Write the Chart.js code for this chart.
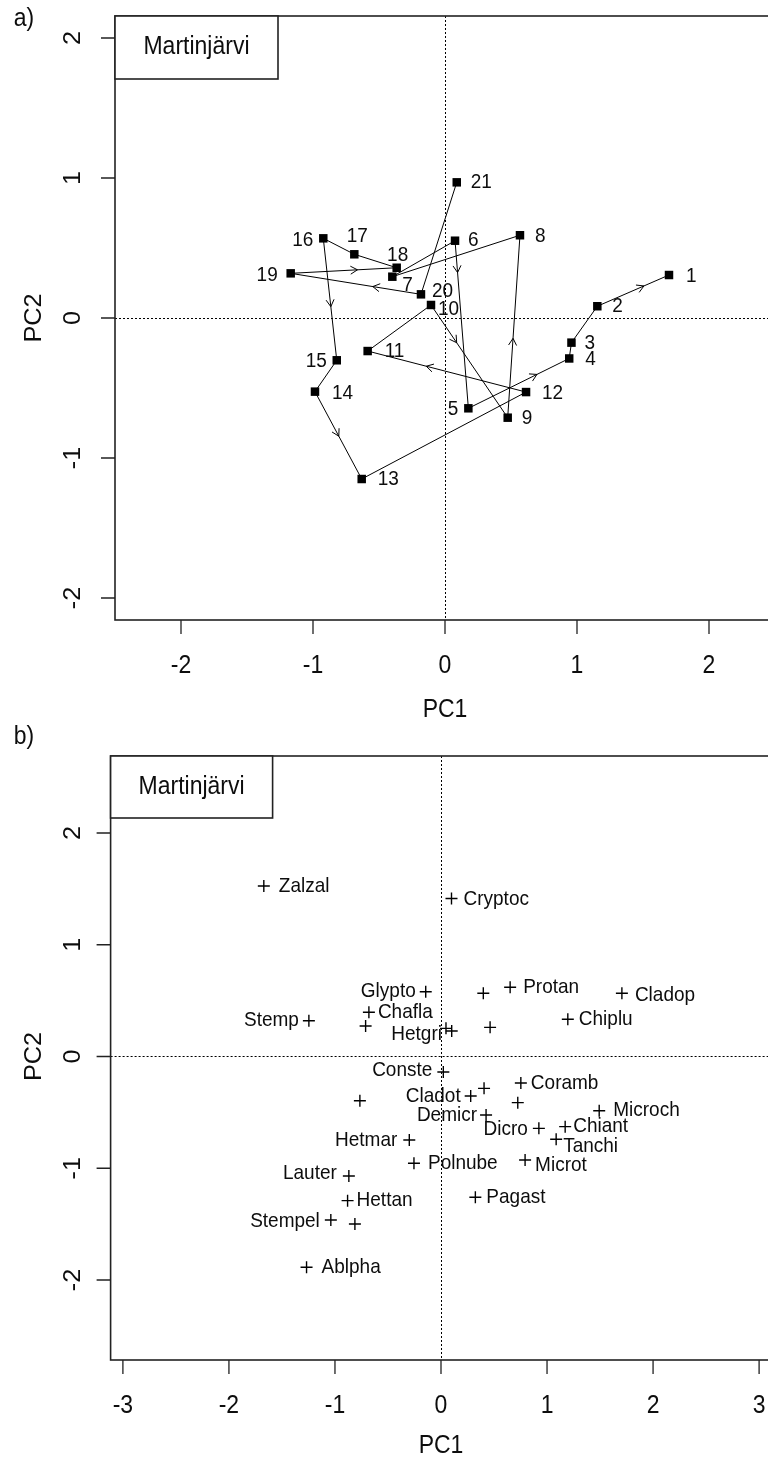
<!DOCTYPE html>
<html>
<head>
<meta charset="utf-8">
<title>Martinjärvi PCA</title>
<script src="https://cdn.jsdelivr.net/npm/chart.js@4.4.1/dist/chart.umd.min.js"></script>
<style>
  html, body { margin: 0; padding: 0; background: #fff; overflow: hidden; }
  #wrap { position: relative; width: 800px; height: 1459px; }
  canvas { position: absolute; left: 0; }
</style>
</head>
<body>
<div id="wrap">
  <canvas id="panelA" width="800" height="728" style="top:0"></canvas>
  <canvas id="panelB" width="800" height="759" style="top:700px"></canvas>
</div>
<script>
// ---- data -------------------------------------------------------------
const siteName = 'Martinjärvi';

// a) sample scores, numbered in stratigraphic order
const sampleIds = ['1','2','3','4','5','6','7','8','9','10','11','12','13','14','15','16','17','18','19','20','21'];
const samplePC1 = [1.697, 1.154, 0.958, 0.941, 0.177, 0.076, -0.399, 0.568, 0.475, -0.106, -0.586,
                   0.614, -0.631, -0.985, -0.820, -0.922, -0.687, -0.366, -1.169, -0.182, 0.089];
const samplePC2 = [0.307, 0.084, -0.176, -0.289, -0.645, 0.552, 0.295, 0.591, -0.712, 0.093, -0.236,
                   -0.529, -1.150, -0.526, -0.302, 0.569, 0.455, 0.359, 0.319, 0.169, 0.969];

// b) taxon scores ('' = unlabelled taxon)
const taxa = ['Zalzal','Cryptoc','Glypto','','Protan','Cladop','Chafla','Stemp','','Hetgri','','',
              'Chiplu','Conste','Coramb','','Cladot','','','Demicr','Microch','Dicro','Chiant','Tanchi',
              'Hetmar','Polnube','Microt','Lauter','Hettan','Pagast','Stempel','','Ablpha'];
const taxaPC1 = [-1.671, 0.099, -0.144, 0.399, 0.652, 1.706, -0.680, -1.246, -0.711, 0.047, 0.101, 0.463,
                 1.196, 0.022, 0.753, 0.406, 0.280, -0.765, 0.724, 0.425, 1.492, 0.923, 1.171, 1.086,
                 -0.299, -0.255, 0.793, -0.869, -0.881, 0.324, -1.039, -0.812, -1.268];
const taxaPC2 = [1.526, 1.414, 0.580, 0.566, 0.619, 0.566, 0.396, 0.320, 0.273, 0.252, 0.228, 0.261,
                 0.333, -0.139, -0.237, -0.285, -0.353, -0.396, -0.413, -0.523, -0.485, -0.643, -0.628, -0.741,
                 -0.747, -0.956, -0.926, -1.069, -1.290, -1.260, -1.463, -1.499, -1.886];

// axis ticks
const ticksAx = [-2, -1, 0, 1, 2];
const ticksAy = [-2, -1, 0, 1, 2];
const ticksBx = [-3, -2, -1, 0, 1, 2, 3];
const ticksBy = [-2, -1, 0, 1, 2];

// ---- styling ----------------------------------------------------------
// label offsets from the point, in pixels: [dx, dy, align]
const sampleLabelOffset = [
  [17, 1, 'left'], [15, 0, 'left'], [13, 1, 'left'], [16, 1, 'left'], [-10, 1, 'right'],
  [13, 0, 'left'], [10, 9, 'left'], [15, 1, 'left'], [14, 1, 'left'], [7, 4, 'left'],
  [17, 0, 'left'], [16, 1, 'left'], [16, 0, 'left'], [17, 2, 'left'], [-10, 1, 'right'],
  [-10, 2, 'right'], [3, -18, 'center'], [1, -12, 'center'], [-13, 2, 'right'], [11, -3, 'left'],
  [14, 0, 'left']
];
// where the direction arrowhead sits on each step (fraction of the way from
// the later sample back to the earlier one); null = no arrowhead drawn
const stepArrowAt = [0.65, null, null, 0.68, 0.19, null, null, 0.435, 0.335, null,
                     0.63, null, 0.51, null, 0.56, null, null, 0.63, 0.37, null];
const taxaLabelOffset = [
  [15, 0, 'left'], [12, 1, 'left'], [-10, 0, 'right'], null, [13, 0, 'left'], [13, 2, 'left'],
  [9, 0, 'left'], [-10, 0, 'right'], null, [-4, 6, 'right'], null, null,
  [11, 0, 'left'], [-11, -2, 'right'], [10, 0, 'left'], null, [-10, 0, 'right'], null, null,
  [-9, 0, 'right'], [14, 0, 'left'], [-11, 1, 'right'], [8, 0, 'left'], [7, 7, 'left'],
  [-12, 0, 'right'], [14, 0, 'left'], [10, 5, 'left'], [-12, -3, 'right'], [9, 0, 'left'],
  [11, 0, 'left'], [-11, 1, 'right'], null, [15, 0, 'left']
];

const STRETCH = 1.1;              // glyphs are drawn slightly tall and narrow
const FONT = '"Liberation Sans", Arial, sans-serif';
const INK = '#0d0d0d';

function txt(ctx, s, x, y, size, align, rot) {
  ctx.save();
  ctx.translate(x, y);
  ctx.scale(1, STRETCH);
  if (rot) ctx.rotate(rot);
  ctx.font = size + 'px ' + FONT;
  ctx.textAlign = align || 'center';
  ctx.textBaseline = 'middle';
  ctx.fillStyle = INK;
  ctx.fillText(s, 0, 0);
  ctx.restore();
}

function zeroLines(chart) {
  const { ctx, chartArea: a, scales: { x, y } } = chart;
  const x0 = Math.round(x.getPixelForValue(0)) + 0.5;
  const y0 = Math.round(y.getPixelForValue(0)) + 0.5;
  ctx.save();
  ctx.strokeStyle = '#000';
  ctx.lineWidth = 1;
  ctx.setLineDash([2, 2]);
  ctx.beginPath();
  ctx.moveTo(x0, a.top); ctx.lineTo(x0, a.bottom);
  ctx.moveTo(a.left, y0); ctx.lineTo(a.right, y0);
  ctx.stroke();
  ctx.restore();
}

function frameAndAxes(chart, opt) {
  const { ctx, chartArea: a, scales: { x, y } } = chart;
  ctx.save();
  ctx.strokeStyle = '#222';
  ctx.lineWidth = 1.6;
  ctx.strokeRect(a.left, a.top, a.right - a.left, a.bottom - a.top);
  ctx.lineWidth = 1.3;
  ctx.beginPath();
  opt.xt.forEach(v => {
    const px = x.getPixelForValue(v);
    ctx.moveTo(px, a.bottom); ctx.lineTo(px, a.bottom + 14);
  });
  opt.yt.forEach(v => {
    const py = y.getPixelForValue(v);
    ctx.moveTo(a.left, py); ctx.lineTo(a.left - 14, py);
  });
  ctx.stroke();
  ctx.restore();
  opt.xt.forEach(v => txt(ctx, String(v), x.getPixelForValue(v), a.bottom + 46, 23, 'center'));
  opt.yt.forEach(v => txt(ctx, String(v), 74, y.getPixelForValue(v), 23, 'center', -Math.PI / 2));
  txt(ctx, 'PC1', x.getPixelForValue(0), a.bottom + opt.titleGap, 23, 'center');
  txt(ctx, 'PC2', 35, y.getPixelForValue(0), 23, 'center', -Math.PI / 2);
  txt(ctx, opt.tag, 24, opt.tagY, 23, 'center');
  // site name box in the top-left corner
  const bw = opt.boxW, bh = opt.boxH;
  ctx.save();
  ctx.fillStyle = '#fff';
  ctx.fillRect(a.left, a.top, bw, bh);
  ctx.strokeStyle = '#222';
  ctx.lineWidth = 1.6;
  ctx.strokeRect(a.left, a.top, bw, bh);
  ctx.restore();
  txt(ctx, siteName, a.left + bw / 2, a.top + bh / 2, 23, 'center');
}

// ---- panel a ----------------------------------------------------------
const trajectory = sampleIds.map((id, i) => ({ x: samplePC1[i], y: samplePC2[i] }));

const panelAPlugin = {
  id: 'panelA',
  beforeDatasetsDraw(chart) { zeroLines(chart); },
  afterDatasetsDraw(chart) {
    const { ctx, scales: { x, y } } = chart;
    ctx.save();
    ctx.strokeStyle = '#000';
    ctx.lineWidth = 1;
    stepArrowAt.forEach((t, i) => {
      if (t === null) return;
      const x1 = x.getPixelForValue(samplePC1[i + 1]), y1 = y.getPixelForValue(samplePC2[i + 1]);
      const x2 = x.getPixelForValue(samplePC1[i]), y2 = y.getPixelForValue(samplePC2[i]);
      const tx = x1 + (x2 - x1) * t, ty = y1 + (y2 - y1) * t;
      const ang = Math.atan2(y2 - y1, x2 - x1);
      const L = 8, spread = Math.PI / 6;
      ctx.beginPath();
      ctx.moveTo(tx - L * Math.cos(ang - spread), ty - L * Math.sin(ang - spread));
      ctx.lineTo(tx, ty);
      ctx.lineTo(tx - L * Math.cos(ang + spread), ty - L * Math.sin(ang + spread));
      ctx.stroke();
    });
    ctx.restore();
    sampleIds.forEach((id, i) => {
      const o = sampleLabelOffset[i];
      txt(ctx, id, x.getPixelForValue(samplePC1[i]) + o[0], y.getPixelForValue(samplePC2[i]) + o[1], 19, o[2]);
    });
  },
  afterDraw(chart) {
    frameAndAxes(chart, { xt: ticksAx, yt: ticksAy, tag: 'a)', tagY: 19, boxW: 163, boxH: 63, titleGap: 90 });
  }
};

new Chart(document.getElementById('panelA'), {
  type: 'scatter',
  data: {
    datasets: [{
      data: trajectory,
      showLine: true,
      borderColor: '#000',
      borderWidth: 1,
      backgroundColor: '#000',
      pointStyle: 'rect',
      pointRadius: 6,
      pointBorderWidth: 0,
      pointBackgroundColor: '#000'
    }]
  },
  options: {
    responsive: false,
    animation: false,
    events: [],
    layout: { padding: { left: 115, right: 25, top: 16, bottom: 108 } },
    plugins: { legend: { display: false }, tooltip: { enabled: false } },
    scales: {
      x: { type: 'linear', min: -2.5, max: 2.5, display: false },
      y: { type: 'linear', min: -2.157, max: 2.157, display: false }
    }
  },
  plugins: [panelAPlugin]
});

// ---- panel b ----------------------------------------------------------
const taxaPoints = taxa.map((t, i) => ({ x: taxaPC1[i], y: taxaPC2[i] }));

const panelBPlugin = {
  id: 'panelB',
  beforeDatasetsDraw(chart) { zeroLines(chart); },
  afterDatasetsDraw(chart) {
    const { ctx, scales: { x, y } } = chart;
    taxa.forEach((t, i) => {
      const o = taxaLabelOffset[i];
      if (!t || !o) return;
      txt(ctx, t, x.getPixelForValue(taxaPC1[i]) + o[0], y.getPixelForValue(taxaPC2[i]) + o[1], 19, o[2]);
    });
  },
  afterDraw(chart) {
    frameAndAxes(chart, { xt: ticksBx, yt: ticksBy, tag: 'b)', tagY: 37, boxW: 162, boxH: 62, titleGap: 86 });
  }
};

new Chart(document.getElementById('panelB'), {
  type: 'scatter',
  data: {
    datasets: [{
      data: taxaPoints,
      showLine: false,
      pointStyle: 'cross',
      pointRadius: 6,
      pointBorderWidth: 1.4,
      pointBorderColor: '#000'
    }]
  },
  options: {
    responsive: false,
    animation: false,
    events: [],
    layout: { padding: { left: 110.6, right: 28.6, top: 56, bottom: 99 } },
    plugins: { legend: { display: false }, tooltip: { enabled: false } },
    scales: {
      x: { type: 'linear', min: -3.116, max: 3.116, display: false },
      y: { type: 'linear', min: -2.716, max: 2.689, display: false }
    }
  },
  plugins: [panelBPlugin]
});
</script>
</body>
</html>
